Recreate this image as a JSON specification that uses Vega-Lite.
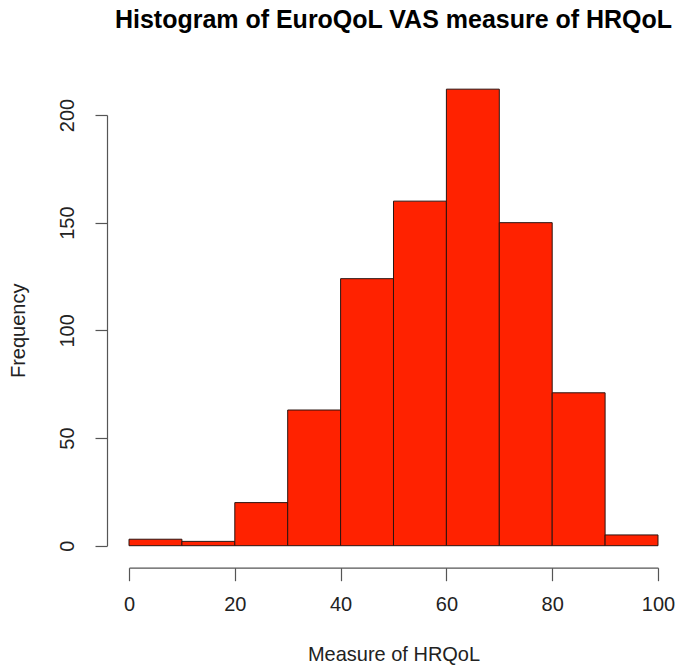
{
  "$schema": "https://vega.github.io/schema/vega-lite/v6.json",
  "autosize": "none",
  "width": 529,
  "height": 430.7,
  "padding": {"left": 129, "top": 115, "right": 17, "bottom": 120},
  "background": "white",
  "title": {
    "text": "Histogram of EuroQoL VAS measure of HRQoL",
    "font": "Liberation Sans",
    "fontSize": 25,
    "fontWeight": "bold",
    "color": "#000000",
    "anchor": "middle",
    "frame": "group",
    "baseline": "alphabetic",
    "offset": 36
  },
  "config": {
    "view": {"stroke": null},
    "axis": {
      "labelFont": "Liberation Sans",
      "titleFont": "Liberation Sans",
      "labelFontSize": 20,
      "titleFontSize": 20,
      "titleFontWeight": "normal",
      "labelColor": "#222222",
      "titleColor": "#222222",
      "domainColor": "#555555",
      "tickColor": "#555555",
      "domainWidth": 1.2,
      "tickWidth": 1.2,
      "grid": false
    }
  },
  "data": {
    "values": [
      {"bin_start": 0, "bin_end": 10, "count": 3},
      {"bin_start": 10, "bin_end": 20, "count": 2},
      {"bin_start": 20, "bin_end": 30, "count": 20},
      {"bin_start": 30, "bin_end": 40, "count": 63},
      {"bin_start": 40, "bin_end": 50, "count": 124},
      {"bin_start": 50, "bin_end": 60, "count": 160},
      {"bin_start": 60, "bin_end": 70, "count": 212},
      {"bin_start": 70, "bin_end": 80, "count": 150},
      {"bin_start": 80, "bin_end": 90, "count": 71},
      {"bin_start": 90, "bin_end": 100, "count": 5}
    ]
  },
  "mark": {"type": "bar", "fill": "#FF2200", "stroke": "#2a1410", "strokeWidth": 1, "binSpacing": 0},
  "encoding": {
    "x": {
      "field": "bin_start",
      "type": "quantitative",
      "scale": {"domain": [0, 100], "nice": false, "zero": false},
      "axis": {
        "title": "Measure of HRQoL",
        "values": [0, 20, 40, 60, 80, 100],
        "offset": 22,
        "tickSize": 13,
        "labelPadding": 14,
        "titlePadding": 30,
        "labelFlush": false
      }
    },
    "x2": {"field": "bin_end"},
    "y": {
      "field": "count",
      "type": "quantitative",
      "scale": {"domain": [0, 200], "nice": false},
      "axis": {
        "title": "Frequency",
        "values": [0, 50, 100, 150, 200],
        "offset": 22,
        "tickSize": 12,
        "labelAngle": -90,
        "labelAlign": "center",
        "labelBaseline": "bottom",
        "labelPadding": 18,
        "titlePadding": 29,
        "labelFlush": false
      }
    },
    "y2": {"datum": 0}
  }
}
